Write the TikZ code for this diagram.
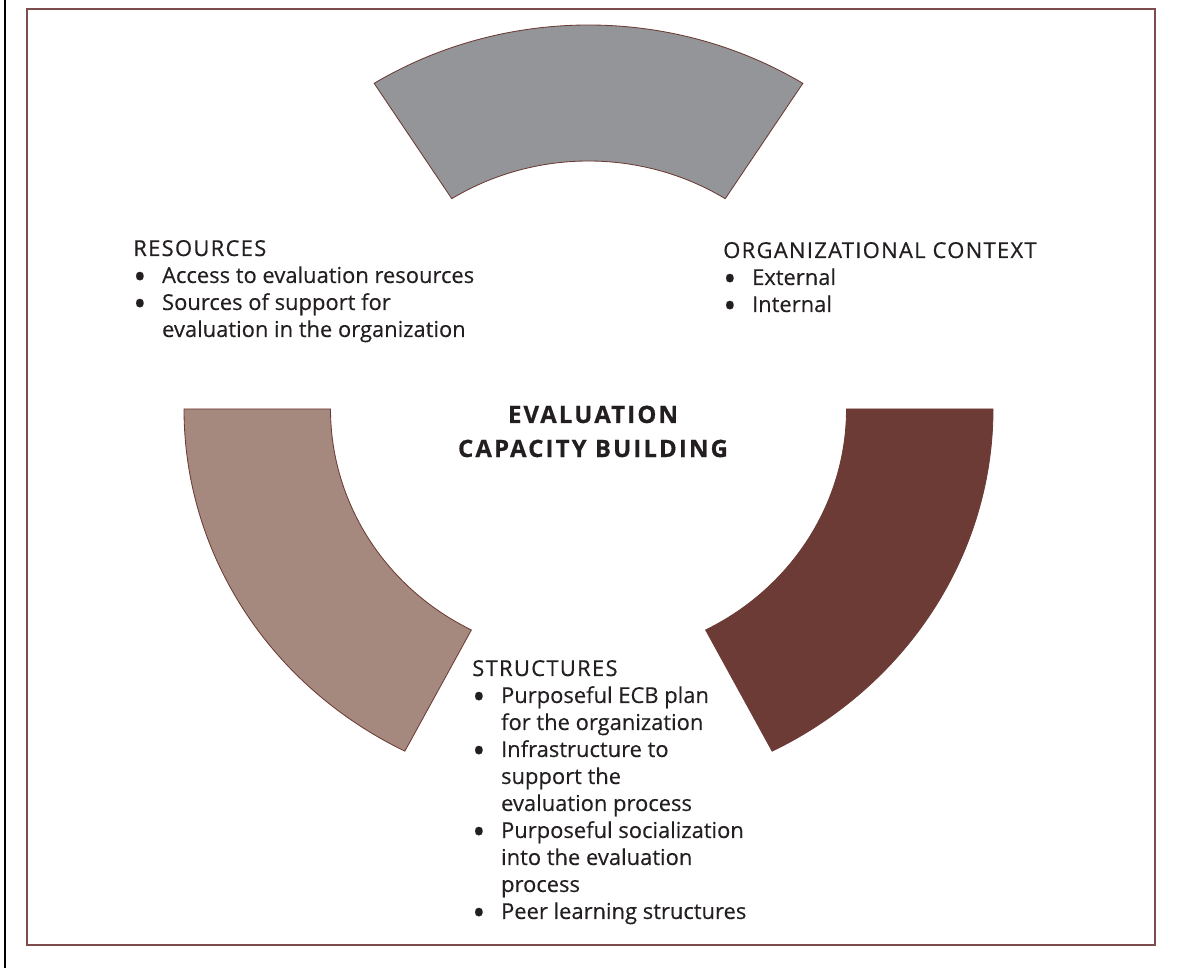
\documentclass[tikz,border=0pt]{standalone}
\usepackage{fontspec}
\setmainfont{Open Sans}
\newfontfamily\bodyfont{Open Sans}[FakeBold=0.3]
\newfontfamily\headfont{Open Sans}[FakeBold=0.6, LetterSpace=6]
\newfontfamily\titlefont{Open Sans}[FakeBold=0.6, LetterSpace=9]
\usetikzlibrary{positioning}

\definecolor{ecbgrey}{HTML}{939598}
\definecolor{ecbrose}{HTML}{A6897E}
\definecolor{ecbbrown}{HTML}{6C3B35}
\definecolor{ecbframe}{HTML}{7D4D4D}
\definecolor{ecbtext}{HTML}{231F20}

\newcommand{\bul}{\makebox[20.5pt][l]{\smash{\raisebox{-4.2pt}{\scalebox{1.6}{\textbullet}}}}}
\newcommand{\hd}[1]{\multicolumn{2}{@{}l@{}}{\headfont #1}}

\begin{document}
\begin{tikzpicture}[x=0.025cm, y=0.025cm,
    sector/.style = {draw=ecbbrown, line width=0.6pt, line join=miter},
    block/.style = {anchor=base west, inner sep=0pt, text=ecbtext,
    font=\fontsize{15.6}{19.2}\selectfont\bodyfont},
    title/.style = {anchor=base, inner sep=0pt, text=ecbtext,
    font=\fontsize{17}{24.2}\selectfont\titlefont\bfseries}]

  \useasboundingbox (0,0) rectangle (1185,969);
  \draw[line width=0.8pt] (5,1) -- (5,969);
  \draw[ecbframe, line width=1.3pt] (27,24) rectangle (1155,960);

  \coordinate (hub) at (588.5,560);

  % the three parts of the ring
  \draw[sector, fill=ecbgrey] ([shift={(58:404.5 and 384)}]hub)
    arc[start angle=58, end angle=122, x radius=404.5, y radius=384]
    -- ([shift={(122:258 and 248)}]hub)
    arc[start angle=122, end angle=58, x radius=258, y radius=248] -- cycle;
  \draw[sector, fill=ecbrose] ([shift={(180:404.5 and 384)}]hub)
    arc[start angle=180, end angle=243, x radius=404.5, y radius=384]
    -- ([shift={(243:258 and 248)}]hub)
    arc[start angle=243, end angle=180, x radius=258, y radius=248] -- cycle;
  \draw[sector, fill=ecbbrown] ([shift={(297:404.5 and 384)}]hub)
    arc[start angle=297, end angle=360, x radius=404.5, y radius=384]
    -- ([shift={(0:258 and 248)}]hub)
    arc[start angle=360, end angle=297, x radius=258, y radius=248] -- cycle;

  \node[title] (ecb) at (593,546) {\begin{tabular}[t]{@{}c@{}}
    EVALUATION\\ CAPACITY BUILDING\end{tabular}};

  \node[block] (resources) at (133,713) {\begin{tabular}[t]{@{}l@{}l@{}}
    \hd{RESOURCES}\\
    \bul & Access to evaluation resources\\
    \bul & Sources of support for\\
         & evaluation in the organization
  \end{tabular}};

  \node[block] (context) at (723,711) {\begin{tabular}[t]{@{}l@{}l@{}}
    \hd{ORGANIZATIONAL CONTEXT}\\
    \bul & External\\
    \bul & Internal
  \end{tabular}};

  \node[block] (structures) at (472,293) {\begin{tabular}[t]{@{}l@{}l@{}}
    \hd{STRUCTURES}\\
    \bul & Purposeful ECB plan\\
         & for the organization\\
    \bul & Infrastructure to\\
         & support the\\
         & evaluation process\\
    \bul & Purposeful socialization\\
         & into the evaluation\\
         & process\\
    \bul & Peer learning structures
  \end{tabular}};

\end{tikzpicture}
\end{document}
